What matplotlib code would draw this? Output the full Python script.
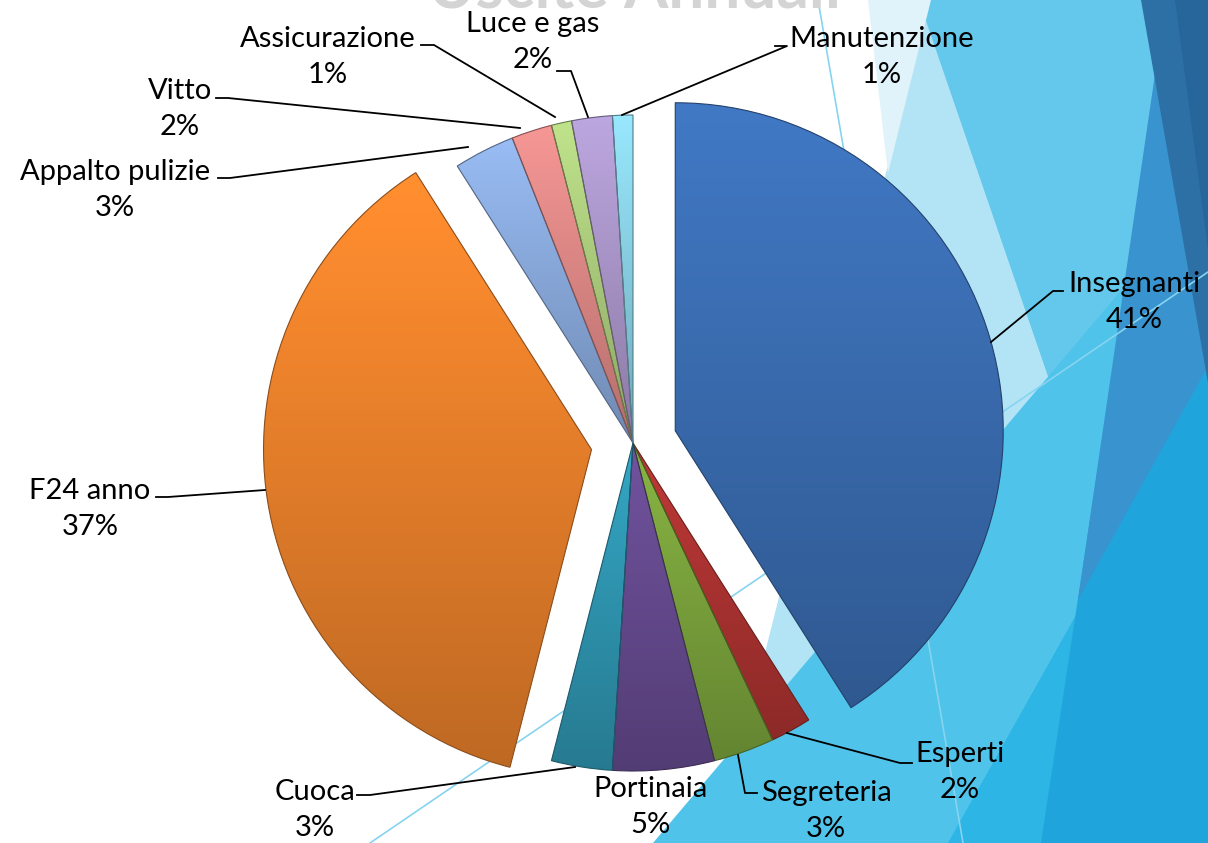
import numpy as np
import matplotlib
matplotlib.use("Agg")
import matplotlib.pyplot as plt
from matplotlib.patches import Polygon
from matplotlib.colors import to_rgb

# data
labels = ["Insegnanti", "Esperti", "Segreteria", "Portinaia", "Cuoca", "F24 anno",
          "Appalto pulizie", "Vitto", "Assicurazione", "Luce e gas", "Manutenzione"]
values = [41, 2, 3, 5, 3, 37, 3, 2, 1, 2, 1]
colors = ["#3a6cb0", "#ab3331", "#7aa23c", "#654a8e", "#2f95b0", "#e8802b",
          "#88a8da", "#dc8785", "#abcb7c", "#a995c8", "#88cfe2"]
explode = [44, 0, 0, 0, 0, 42, 0, 0, 0, 0, 0]

# label block centres and leader lines (pixel coords, y down)
label_pos = [(1134, 302), (960, 772), (826, 811), (650, 807), (315, 810), (90, 509),
             (115, 190), (180, 109), (328, 57), (533, 42), (882, 57)]
leaders = [
    [(991, 342), (1053, 291), (1063, 291)],
    [(787, 733), (900, 763), (912, 763)],
    [(738, 755), (745, 793), (757, 793)],
    None,
    [(575, 767), (370, 795), (357, 795)],
    [(265, 490), (168, 497), (156, 497)],
    [(468, 147), (230, 178), (218, 178)],
    [(520, 128), (228, 98), (216, 98)],
    [(555, 117), (434, 45), (421, 45)],
    [(588, 117), (571, 71), (557, 71)],
    [(622, 115), (787, 46), (775, 46)],
]

W, H = 1208, 843
fig = plt.figure(figsize=(W / 100, H / 100), dpi=100)
ax = fig.add_axes([0, 0, 1, 1])

# background facets
bg = [
    ("#63c8ec", [(918, 0), (1208, 0), (1208, 843)]),
    ("#b2e4f6", [(925, 18), (1208, 843), (717, 843)]),
    ("#e0f3fb", [(868, 0), (931, 0), (888, 173)]),
    ("#50c3ea", [(653, 843), (1208, 188), (1208, 843)]),
    ("#2cb5e5", [(948, 843), (1208, 380), (1208, 843)]),
    ("#1fa5dc", [(1041, 843), (1105, 420), (1208, 300), (1208, 843)]),
    ("#3993cf", [(1160, 40), (1208, 40), (1208, 366), (1078, 600)]),
    ("#2d70a6", [(1141, 0), (1208, 0), (1208, 383)]),
    ("#27669a", [(1175, 0), (1208, 0), (1208, 250)]),
]
for c, pts in bg:
    ax.add_patch(Polygon(pts, closed=True, facecolor=c, edgecolor="none", zorder=0))
ax.plot([370, 1208], [843, 272], color="#86d4f0", lw=1.2, zorder=0.5)
ax.plot([818, 963], [0, 843], color="#86d4f0", lw=1.2, zorder=0.5)

# pie (y axis is inverted, so counterclock=True draws clockwise on screen)
wedges, _ = ax.pie(values, colors=colors, explode=explode, radius=328,
                   center=(633, 443), startangle=-90, counterclock=True,
                   wedgeprops=dict(linewidth=0.8))

grad = np.linspace(1.12, 0.82, 256)[:, None]
for w, c in zip(wedges, colors):
    base = np.array(to_rgb(c))
    img = np.clip(grad[:, :, None] * base[None, None, :], 0, 1)
    img = np.repeat(img, 2, axis=1)
    bb = w.get_path().get_extents(w.get_transform() + ax.transData.inverted())
    im = ax.imshow(img, extent=(bb.x0, bb.x1, bb.y1, bb.y0), origin="upper",
                   aspect="auto", zorder=2, interpolation="bilinear")
    im.set_clip_path(w)
    w.set_facecolor("none")
    w.set_edgecolor(tuple(base * 0.6))
    w.set_zorder(3)

total = sum(values)
for name, v, (x, y) in zip(labels, values, label_pos):
    ax.text(x, y, "%s\n%d%%" % (name, round(v / total * 100)), ha="center", va="center",
            fontsize=21, family="Lato", linespacing=1.45, color="black", zorder=5)
for seg in leaders:
    if seg is None:
        continue
    xs, ys = zip(*seg)
    ax.plot(xs, ys, color="black", lw=1.3, zorder=4)

# title, mostly cut off by the top edge
ax.text(635, 7, "Uscite Annuali", ha="center", va="baseline", fontsize=46,
        family="Lato", weight="bold", color="#d4d4d4", zorder=1)

ax.set_xlim(0, W)
ax.set_ylim(H, 0)
ax.set_aspect("auto")
ax.axis("off")

fig.savefig("out.png", dpi=100)
